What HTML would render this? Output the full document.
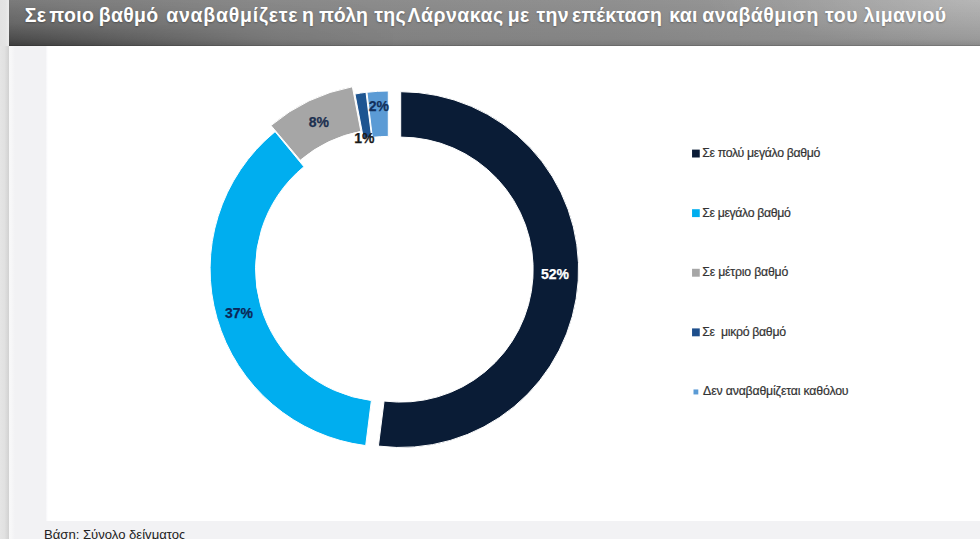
<!DOCTYPE html>
<html><head><meta charset="utf-8"><style>
html,body{margin:0;padding:0}
body{width:980px;height:539px;overflow:hidden;background:#f2f2f4;position:relative;font-family:"Liberation Sans",sans-serif}
#strip{position:absolute;left:0;top:0;width:9px;height:539px;background:linear-gradient(90deg,#e5e5e5 0%,#e1e1e1 50%,#d1d1d1 100%)}
#hl{position:absolute;left:9px;top:46px;width:6px;height:493px;background:linear-gradient(90deg,#f9f9f9 0%,#f7f7f8 40%,#f2f2f4 100%)}
#striptop{position:absolute;left:0;top:0;width:9px;height:46px;background:linear-gradient(90deg,#e2e2e2 0%,#e4e4e4 60%,#ececec 100%)}
#hdr{position:absolute;left:9px;top:0;width:971px;height:46px;background:linear-gradient(90deg,#777777 0%,#848484 25%,#8a8a8a 62%,#929292 82%,#9d9d9d 100%)}
#hdrA{position:absolute;left:9px;top:0;width:971px;height:46px;background:linear-gradient(180deg,rgba(255,255,255,0.05) 0%,rgba(0,0,0,0) 40%,rgba(0,0,0,0.04) 85%,rgba(0,0,0,0.13) 100%)}
#hdrB{position:absolute;left:9px;top:0;width:971px;height:46px;background:linear-gradient(180deg,rgba(0,0,0,0.02) 0%,rgba(0,0,0,0.12) 50%,rgba(0,0,0,0.42) 100%);-webkit-mask-image:linear-gradient(90deg,#000 0%,rgba(0,0,0,0.55) 14%,rgba(0,0,0,0.15) 28%,transparent 40%);mask-image:linear-gradient(90deg,#000 0%,rgba(0,0,0,0.55) 14%,rgba(0,0,0,0.15) 28%,transparent 40%)}
#hdrC{position:absolute;left:700px;top:0;width:280px;height:46px;background:radial-gradient(ellipse at 100% 0%,rgba(255,255,255,0.22) 0%,rgba(255,255,255,0) 70%)}
#hdrL{position:absolute;left:9px;top:45px;width:971px;height:1px;background:rgba(0,0,0,0.12)}
#title{position:absolute;left:0;top:4px;font-size:19.5px;font-weight:bold;color:#fff;white-space:nowrap;letter-spacing:0.285px;text-shadow:0 1px 2px rgba(0,0,0,0.3)}
#title .w{position:absolute;top:0}
#chart{position:absolute;left:46px;top:46px;width:934px;height:475px;background:linear-gradient(90deg,#f6f6f8 0px,#fdfdfe 1.5px,#fff 2px)}
svg{position:absolute;left:0;top:0}
.lbl{font-family:"Liberation Sans",sans-serif;font-weight:bold;font-size:14px;text-anchor:middle;stroke-width:0.25px}
.leg{font-family:"Liberation Sans",sans-serif;font-size:12.3px;fill:#333;stroke:#333;stroke-width:0.2px}
#foot{position:absolute;left:44px;top:526.5px;font-size:13.1px;color:#222;white-space:nowrap}
</style></head><body>
<div id="strip"></div><div id="striptop"></div><div id="hl"></div>
<div id="chart"></div>
<div id="hdr"></div><div id="hdrA"></div><div id="hdrB"></div><div id="hdrC"></div><div id="hdrL"></div>
<div id="title"><span class="w" style="left:24.80px;letter-spacing:0.285px">Σε</span><span class="w" style="left:49.33px;letter-spacing:0.285px">ποιο</span><span class="w" style="left:98.72px;letter-spacing:0.285px">βαθμό</span><span class="w" style="left:166.13px;letter-spacing:0.785px">αναβαθμίζετε</span><span class="w" style="left:302.05px;letter-spacing:0.285px">η</span><span class="w" style="left:318.95px;letter-spacing:-0.215px">πόλη</span><span class="w" style="left:374.31px;letter-spacing:0.285px">της</span><span class="w" style="left:407.50px;letter-spacing:0.475px">Λάρνακας</span><span class="w" style="left:507.73px;letter-spacing:0.285px">με</span><span class="w" style="left:536.50px;letter-spacing:0.285px">την</span><span class="w" style="left:571.98px;letter-spacing:0.105px">επέκταση</span><span class="w" style="left:669.23px;letter-spacing:0.285px">και</span><span class="w" style="left:702.19px;letter-spacing:0.475px">αναβάθμιση</span><span class="w" style="left:825.09px;letter-spacing:0.585px">του</span><span class="w" style="left:863.83px;letter-spacing:0.355px">λιμανιού</span></div>
<svg width="980" height="539" viewBox="0 0 980 539">
<path d="M400.70 91.70 A177.90 177.90 0 1 1 378.40 446.10 L384.09 401.06 A132.50 132.50 0 1 0 400.70 137.10 Z" fill="#0a1c36" stroke="#fff" stroke-width="1.0" stroke-linejoin="miter"/>
<path d="M365.70 445.60 A177.90 177.90 0 0 1 275.08 131.63 L303.90 166.71 A132.50 132.50 0 0 0 371.39 400.56 Z" fill="#00aeef" stroke="#fff" stroke-width="1.0" stroke-linejoin="miter"/>
<path d="M270.99 125.52 A177.90 177.90 0 0 1 352.36 86.75 L360.87 131.35 A132.50 132.50 0 0 0 300.27 160.22 Z" fill="#a6a6a6" stroke="#fff" stroke-width="1.0" stroke-linejoin="miter"/>
<path d="M354.96 94.05 A177.90 177.90 0 0 1 366.00 92.30 L371.69 137.34 A132.50 132.50 0 0 0 363.47 138.65 Z" fill="#1e5591" stroke="#fff" stroke-width="1.0" stroke-linejoin="miter"/>
<path d="M366.93 92.29 A177.90 177.90 0 0 1 388.30 91.00 L388.30 136.40 A132.50 132.50 0 0 0 372.38 137.36 Z" fill="#5b9bd5" stroke="#fff" stroke-width="1.0" stroke-linejoin="miter"/>
<text class="lbl" x="555" y="279" fill="#fff" stroke="#fff">52%</text>
<text class="lbl" x="239" y="317.6" fill="#0c2858" stroke="#0c2858">37%</text>
<text class="lbl" x="318.8" y="126.8" fill="#1c3050" stroke="#1c3050">8%</text>
<text class="lbl" x="364.4" y="143.4" fill="#1a1a1a" stroke="#1a1a1a">1%</text>
<text class="lbl" x="378.8" y="110.8" fill="#12305c" stroke="#12305c">2%</text>
<rect x="692.05" y="149.60" width="7.70" height="7.90" fill="#0a1c36"/><text class="leg" x="702.2" y="156.9" textLength="118.2" lengthAdjust="spacing" xml:space="preserve">Σε πολύ μεγάλο βαθμό</text>
<rect x="692.05" y="209.20" width="7.70" height="7.90" fill="#00aeef"/><text class="leg" x="702.2" y="216.5" textLength="88.6" lengthAdjust="spacing" xml:space="preserve">Σε μεγάλο βαθμό</text>
<rect x="692.05" y="268.80" width="7.70" height="7.90" fill="#a6a6a6"/><text class="leg" x="702.3" y="276.1" textLength="86.0" lengthAdjust="spacing" xml:space="preserve">Σε μέτριο βαθμό</text>
<rect x="692.05" y="328.40" width="7.70" height="7.90" fill="#1e4f8c"/><text class="leg" x="702.3" y="335.7" textLength="83.7" lengthAdjust="spacing" xml:space="preserve">Σε  μικρό βαθμό</text>
<rect x="693.50" y="389.45" width="4.80" height="5.00" fill="#5b9bd5"/><text class="leg" x="703.1" y="395.3" textLength="145.5" lengthAdjust="spacing" xml:space="preserve">Δεν αναβαθμίζεται καθόλου</text>

</svg>
<div id="foot">Βάση: Σύνολο δείγματος</div>
</body></html>
